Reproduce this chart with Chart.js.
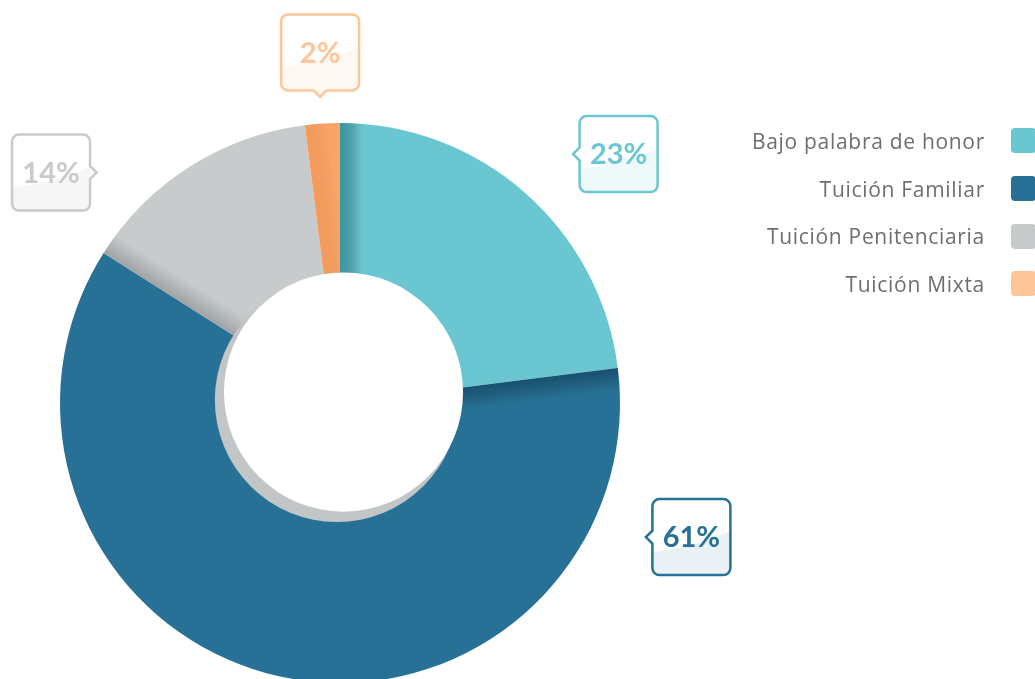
<!DOCTYPE html>
<html>
<head>
<meta charset="utf-8">
<script src="https://cdn.jsdelivr.net/npm/chart.js@4"></script>
<style>
    html, body { margin: 0; padding: 0; background: #fff; overflow: hidden; }
    #wrap { position: absolute; left: 0; top: 0; width: 1035px; height: 806px; }
    #legend { position: absolute; top: 117px; right: -1px; margin: 0; padding: 0; list-style: none; }
    #legend li { display: flex; justify-content: flex-end; align-items: center; height: 47.7px; }
    #legend span.txt { font-family: "Open Sans", sans-serif; font-size: 21px; letter-spacing: 0.7px; color: #6D6E71; margin-right: 26px; }
    #legend span.box { width: 25px; height: 25px; border-radius: 4px; display: inline-block; }
</style>
</head>
<body>
<div id="wrap">
    <canvas id="donut" width="1035" height="806"></canvas>
    <ul id="legend"></ul>
</div>

<script>
// data
const labels = ['Bajo palabra de honor', 'Tuición Familiar', 'Tuición Penitenciaria', 'Tuición Mixta'];
const values = [23, 61, 14, 2];
const sliceColors = ['#6AC7D1', '#277196', '#C8CBCC', '#FAA466'];
const legendColors = ['#6AC7D1', '#277196', '#C8CBCC', '#FDC598'];

// callout placement, in units of the outer radius from the centre
const callouts = [
    { dx: 0.995, dy: -0.889, side: 'left', color: '#6AC7D1', tint: 'rgba(106,199,209,0.10)' },
    { dx: 1.255, dy: 0.479, side: 'left', color: '#277196', tint: 'rgba(39,113,150,0.10)' },
    { dx: -1.032, dy: -0.823, side: 'right', color: '#C8CBCC', tint: 'rgba(180,184,186,0.12)' },
    { dx: -0.071, dy: -1.252, side: 'bottom', color: '#FDC598', tint: 'rgba(253,197,152,0.12)' }
];
// shade along the leading edge of each slice
const edgeShade = ['rgba(0,110,120,0.5)', 'rgba(0,20,40,0.35)', 'rgba(0,0,0,0.2)', 'rgba(220,90,0,0.12)'];

// html legend
const legendEl = document.getElementById('legend');
labels.forEach((l, i) => {
    legendEl.innerHTML += `<li><span class="txt">${l}</span><span class="box" style="background:${legendColors[i]}"></span></li>`;
});

function calloutPath(ctx, cx, cy, w, h, r, side, n) {
    const left = cx - w / 2, right = cx + w / 2, top = cy - h / 2, bottom = cy + h / 2;
    ctx.beginPath();
    ctx.moveTo(left + r, top);
    ctx.lineTo(right - r, top);
    ctx.arcTo(right, top, right, top + r, r);
    if (side === 'right') { ctx.lineTo(right, cy - n); ctx.lineTo(right + n, cy); ctx.lineTo(right, cy + n); }
    ctx.lineTo(right, bottom - r);
    ctx.arcTo(right, bottom, right - r, bottom, r);
    if (side === 'bottom') { ctx.lineTo(cx + n, bottom); ctx.lineTo(cx, bottom + n); ctx.lineTo(cx - n, bottom); }
    ctx.lineTo(left + r, bottom);
    ctx.arcTo(left, bottom, left, bottom - r, r);
    if (side === 'left') { ctx.lineTo(left, cy + n); ctx.lineTo(left - n, cy); ctx.lineTo(left, cy - n); }
    ctx.lineTo(left, top + r);
    ctx.arcTo(left, top, left + r, top, r);
    ctx.closePath();
}

const decorPlugin = {
    id: 'decor',
    afterDatasetsDraw(chart) {
        const ctx = chart.ctx;
        const arcs = chart.getDatasetMeta(0).data;
        const cx = arcs[0].x, cy = arcs[0].y, R = arcs[0].outerRadius;

        // edge shading on each slice, only beside its leading edge
        arcs.forEach((a, i) => {
            const ex = Math.cos(a.startAngle), ey = Math.sin(a.startAngle);
            const px = -ey, py = ex; // into the slice
            const L = 2000;
            ctx.save();
            ctx.beginPath();
            ctx.arc(a.x, a.y, a.outerRadius, a.startAngle, a.endAngle);
            ctx.arc(a.x, a.y, a.innerRadius, a.endAngle, a.startAngle, true);
            ctx.closePath();
            ctx.clip();
            ctx.beginPath();
            ctx.moveTo(a.x - px * L, a.y - py * L);
            ctx.lineTo(a.x + px * L, a.y + py * L);
            ctx.lineTo(a.x + px * L + ex * L, a.y + py * L + ey * L);
            ctx.lineTo(a.x - px * L + ex * L, a.y - py * L + ey * L);
            ctx.closePath();
            ctx.clip();
            const g = ctx.createLinearGradient(a.x - px, a.y - py, a.x + 22 * px, a.y + 22 * py);
            g.addColorStop(0, 'rgba(0,0,0,0)');
            g.addColorStop(1 / 23, edgeShade[i]);
            g.addColorStop(1, 'rgba(0,0,0,0)');
            ctx.fillStyle = g;
            ctx.fillRect(0, 0, chart.width, chart.height);
            ctx.restore();
        });

        // hole with its shadow ring
        ctx.save();
        ctx.fillStyle = '#C3C6C7';
        ctx.beginPath();
        ctx.arc(cx - 0.011 * R, cy - 0.011 * R, 0.436 * R, 0, Math.PI * 2);
        ctx.fill();
        ctx.fillStyle = '#fff';
        ctx.beginPath();
        ctx.arc(cx + 0.0125 * R, cy - 0.039 * R, 0.427 * R, 0, Math.PI * 2);
        ctx.fill();
        ctx.restore();

        // percentage callouts
        callouts.forEach((c, i) => {
            const bx = cx + c.dx * R, by = cy + c.dy * R;
            const w = 78, h = 76;
            ctx.save();
            calloutPath(ctx, bx, by, w, h, 7, c.side, 6.5);
            ctx.fillStyle = '#fff';
            ctx.fill();
            ctx.save();
            ctx.clip();
            ctx.beginPath();
            ctx.moveTo(bx - w / 2, by + 0.2 * h);
            ctx.quadraticCurveTo(bx + 0.1 * w, by + 0.12 * h, bx + w / 2, by - 0.08 * h);
            ctx.lineTo(bx + w / 2, by + h / 2 + 10);
            ctx.lineTo(bx - w / 2, by + h / 2 + 10);
            ctx.closePath();
            ctx.fillStyle = c.tint;
            ctx.fill();
            ctx.restore();
            calloutPath(ctx, bx, by, w, h, 7, c.side, 6.5);
            ctx.lineWidth = 2.5;
            ctx.strokeStyle = c.color;
            ctx.stroke();
            ctx.fillStyle = c.color;
            ctx.font = 'bold 29px Lato, sans-serif';
            ctx.textAlign = 'center';
            ctx.textBaseline = 'middle';
            ctx.fillText(values[i] + '%', bx, by + 1);
            ctx.restore();
        });
    }
};

new Chart(document.getElementById('donut'), {
    type: 'doughnut',
    data: {
        labels: labels,
        datasets: [{
            data: values,
            backgroundColor: sliceColors,
            borderWidth: 0,
            hoverOffset: 0
        }]
    },
    options: {
        responsive: false,
        animation: false,
        cutout: 110,
        layout: { padding: { left: 60, right: 415, top: 123, bottom: 123 } },
        plugins: {
            legend: { display: false },
            tooltip: { enabled: false }
        }
    },
    plugins: [decorPlugin]
});
</script>
</body>
</html>
